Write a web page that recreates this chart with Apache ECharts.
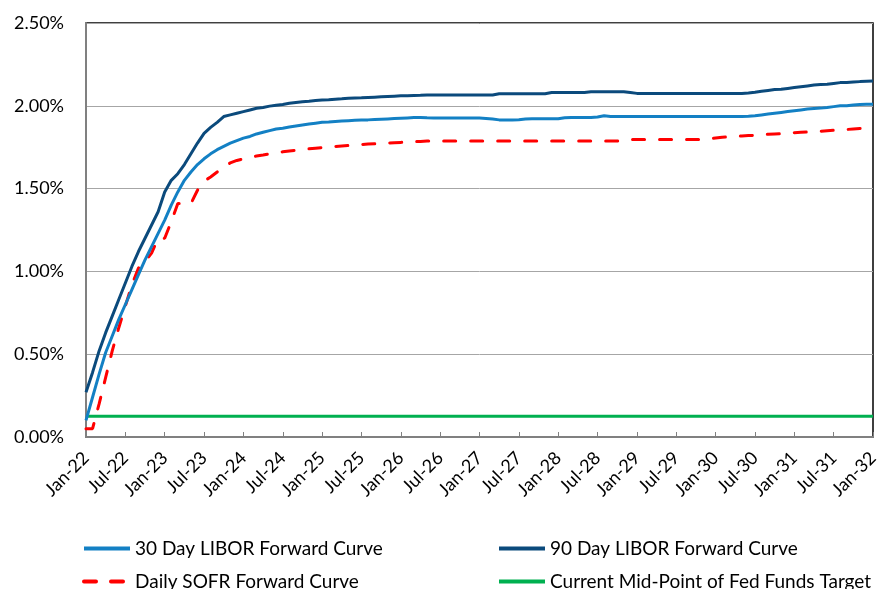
<!DOCTYPE html>
<html>
<head>
<meta charset="utf-8">
<script src="https://cdn.jsdelivr.net/npm/echarts@6/dist/echarts.min.js"></script>
<style>
  html, body { margin: 0; padding: 0; background: #fff; }
  #chart { width: 882px; height: 589px; }
</style>
</head>
<body>
<div id="chart"></div>
<script>
// monthly points Jan-22 .. Jan-32 (121 values), in percent
var monthNames = ['Jan','Feb','Mar','Apr','May','Jun','Jul','Aug','Sep','Oct','Nov','Dec'];
var months = [];
for (var y = 22; y <= 32; y++) {
  for (var m = 0; m < 12; m++) {
    if (y === 32 && m > 0) break;
    months.push(monthNames[m] + '-' + y);
  }
}

var libor30 = [
  0.10, 0.24, 0.38, 0.51, 0.61, 0.71, 0.80, 0.89, 0.98, 1.07, 1.15, 1.23,
  1.31, 1.40, 1.48, 1.55, 1.60, 1.645, 1.68, 1.71, 1.735, 1.755, 1.775, 1.79,
  1.805, 1.815, 1.83, 1.84, 1.85, 1.86, 1.865, 1.872, 1.878, 1.884, 1.89, 1.895,
  1.90, 1.902, 1.905, 1.908, 1.91, 1.912, 1.914, 1.915, 1.917, 1.919, 1.921, 1.923,
  1.925, 1.927, 1.929, 1.93, 1.928, 1.927, 1.926, 1.926, 1.926, 1.926, 1.926, 1.926,
  1.926, 1.924, 1.92, 1.915, 1.915, 1.915, 1.916, 1.92, 1.922, 1.922, 1.922, 1.922,
  1.922, 1.928, 1.93, 1.93, 1.93, 1.93, 1.932, 1.94, 1.935, 1.935, 1.935, 1.935,
  1.935, 1.935, 1.935, 1.935, 1.935, 1.935, 1.935, 1.935, 1.935, 1.935, 1.935, 1.935,
  1.935, 1.935, 1.935, 1.935, 1.935, 1.937, 1.94, 1.945, 1.95, 1.955, 1.96, 1.965,
  1.97, 1.975, 1.98, 1.983, 1.986, 1.99, 1.995, 2.0, 2.0, 2.005, 2.008, 2.01,
  2.01
];
var libor90 = [
  0.27, 0.39, 0.52, 0.63, 0.73, 0.83, 0.93, 1.03, 1.12, 1.20, 1.28, 1.36,
  1.48, 1.55, 1.59, 1.645, 1.71, 1.775, 1.834, 1.87, 1.90, 1.935, 1.945, 1.955,
  1.965, 1.975, 1.985, 1.99, 1.998, 2.003, 2.008, 2.015, 2.02, 2.025, 2.028, 2.032,
  2.035, 2.037, 2.04, 2.042, 2.045, 2.047, 2.048, 2.05, 2.052, 2.054, 2.056, 2.058,
  2.06, 2.061, 2.062, 2.063, 2.065, 2.065, 2.065, 2.065, 2.065, 2.065, 2.065, 2.065,
  2.065, 2.065, 2.065, 2.073, 2.073, 2.073, 2.073, 2.073, 2.073, 2.073, 2.073, 2.08,
  2.08, 2.08, 2.08, 2.08, 2.08, 2.085, 2.085, 2.085, 2.085, 2.085, 2.085, 2.08,
  2.075, 2.075, 2.075, 2.075, 2.075, 2.075, 2.075, 2.075, 2.075, 2.075, 2.075, 2.075,
  2.075, 2.075, 2.075, 2.075, 2.075, 2.078, 2.082, 2.088, 2.093, 2.098, 2.10, 2.105,
  2.11, 2.115, 2.12, 2.125, 2.128, 2.13, 2.135, 2.14, 2.14, 2.143, 2.146, 2.148,
  2.15
];
var sofr = [
  0.05, 0.05, 0.20, 0.36, 0.52, 0.66, 0.79, 0.92, 1.02, 1.06, 1.11, 1.20,
  1.20, 1.30, 1.41, 1.41, 1.41, 1.49, 1.545, 1.57, 1.60, 1.635, 1.655, 1.67,
  1.68, 1.69, 1.697, 1.703, 1.71, 1.717, 1.722, 1.727, 1.732, 1.736, 1.74, 1.744,
  1.748, 1.751, 1.754, 1.757, 1.76, 1.763, 1.766, 1.769, 1.771, 1.773, 1.775, 1.777,
  1.779, 1.781, 1.783, 1.785, 1.787, 1.787, 1.787, 1.787, 1.787, 1.787, 1.787, 1.787,
  1.787, 1.787, 1.787, 1.787, 1.787, 1.787, 1.787, 1.787, 1.787, 1.787, 1.787, 1.787,
  1.787, 1.787, 1.787, 1.787, 1.787, 1.787, 1.787, 1.787, 1.787, 1.787, 1.795, 1.797,
  1.797, 1.797, 1.797, 1.797, 1.797, 1.797, 1.797, 1.797, 1.797, 1.797, 1.797, 1.80,
  1.805, 1.81, 1.812, 1.815, 1.818, 1.82, 1.822, 1.825, 1.828, 1.83, 1.832, 1.835,
  1.838, 1.84, 1.842, 1.844, 1.846, 1.849, 1.852, 1.855, 1.857, 1.86, 1.863, 1.866,
  1.868
];
var fedFunds = months.map(function () { return 0.125; });

var yTicks = [0, 0.5, 1.0, 1.5, 2.0, 2.5];

var fontFamily = 'Lato, "Open Sans", sans-serif';
var chart = echarts.init(document.getElementById('chart'));

function legendAt(name, left, top) {
  return {
    data: [name],
    left: left,
    top: top,
    itemWidth: 46,
    itemHeight: 14,
    itemStyle: { opacity: 0 },
    lineStyle: { width: 4 },
    textStyle: { fontFamily: fontFamily, fontSize: 19, color: '#000' },
    selectedMode: false
  };
}

var option = {
  animation: false,
  grid: {
    left: 86,
    right: 9,
    top: 23,
    bottom: 152,
    show: true,
    borderColor: '#000',
    borderWidth: 1.5
  },
  legend: [
    legendAt('30 Day LIBOR Forward Curve', 77, 534),
    legendAt('90 Day LIBOR Forward Curve', 492, 534),
    legendAt('Daily SOFR Forward Curve', 77, 567),
    legendAt('Current Mid-Point of Fed Funds Target', 492, 567)
  ],
  xAxis: {
    type: 'category',
    data: months,
    boundaryGap: false,
    axisLine: { lineStyle: { color: '#808080', width: 2 } },
    axisTick: { show: true, inside: true, length: 5, interval: 5, lineStyle: { color: '#808080' } },
    axisLabel: {
      interval: 5,
      rotate: 45,
      margin: 18,
      fontFamily: fontFamily,
      fontSize: 18,
      color: '#000'
    },
    splitLine: { show: false }
  },
  yAxis: {
    type: 'value',
    min: yTicks[0],
    max: yTicks[yTicks.length - 1],
    interval: 0.5,
    axisLine: { show: true, lineStyle: { color: '#808080', width: 2 } },
    axisTick: { show: false },
    axisLabel: {
      margin: 22,
      fontFamily: fontFamily,
      fontSize: 18,
      color: '#000',
      formatter: function (v) { return v.toFixed(2) + '%'; }
    },
    splitLine: { lineStyle: { color: '#A6A6A6', width: 1 } }
  },
  series: [
    {
      name: '30 Day LIBOR Forward Curve',
      type: 'line',
      data: libor30,
      symbol: 'none',
      lineStyle: { color: '#1380C4', width: 3 },
      itemStyle: { color: '#1380C4' },
      z: 3
    },
    {
      name: '90 Day LIBOR Forward Curve',
      type: 'line',
      data: libor90,
      symbol: 'none',
      lineStyle: { color: '#0B4A7C', width: 3 },
      itemStyle: { color: '#0B4A7C' },
      z: 4
    },
    {
      name: 'Daily SOFR Forward Curve',
      type: 'line',
      data: sofr,
      symbol: 'none',
      lineStyle: { color: '#FF0000', width: 3, type: [12, 15], cap: 'round' },
      itemStyle: { color: '#FF0000' },
      z: 2
    },
    {
      name: 'Current Mid-Point of Fed Funds Target',
      type: 'line',
      data: fedFunds,
      symbol: 'none',
      lineStyle: { color: '#00B050', width: 3 },
      itemStyle: { color: '#00B050' },
      z: 1
    }
  ]
};
option && chart.setOption(option);
</script>
</body>
</html>
